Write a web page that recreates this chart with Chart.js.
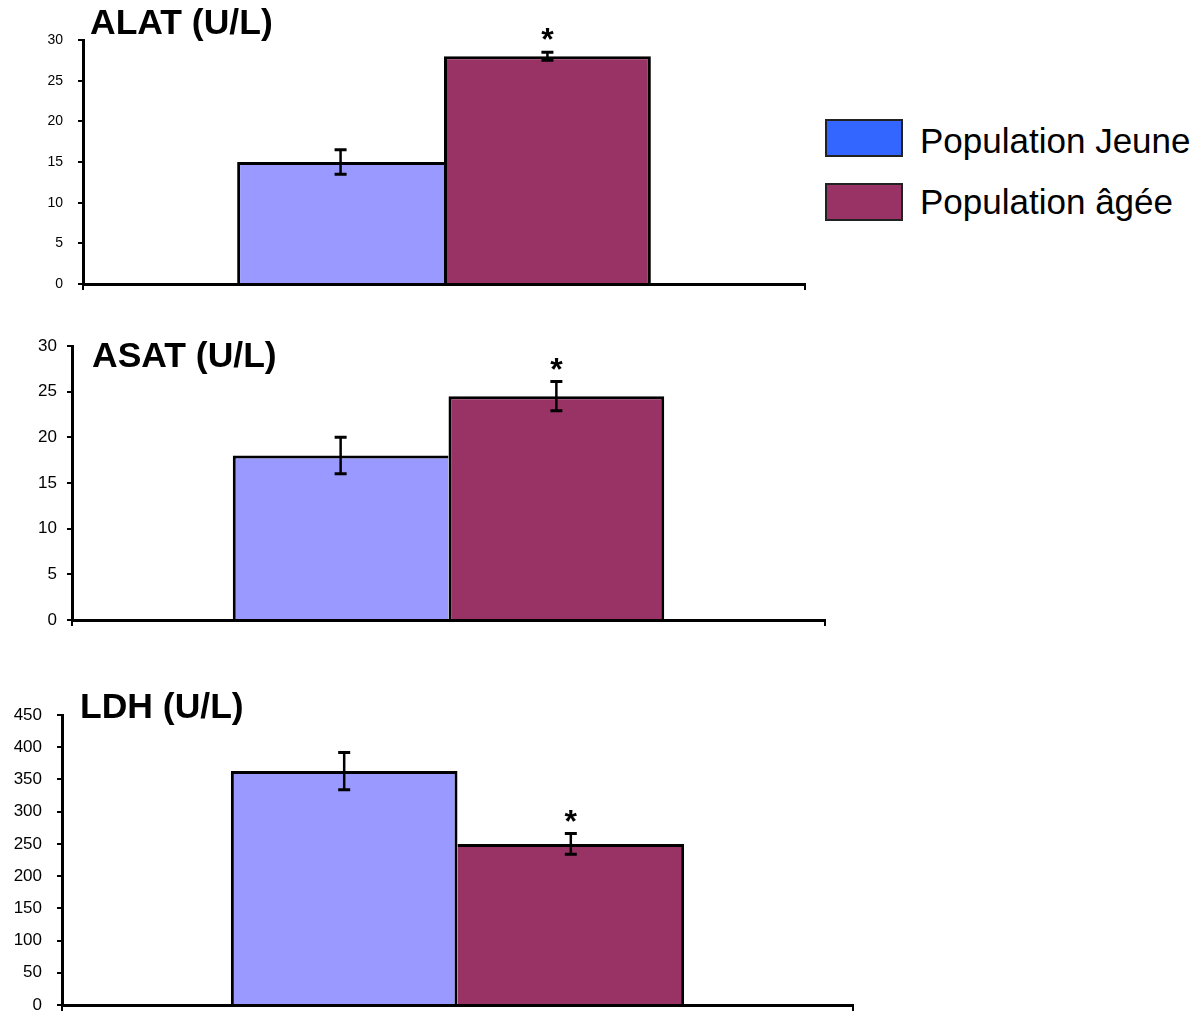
<!DOCTYPE html>
<html>
<head>
<meta charset="utf-8">
<script src="https://cdn.jsdelivr.net/npm/chart.js@4.4.1/dist/chart.umd.min.js"></script>
<style>
  body { margin: 0; background: #fff; width: 1201px; height: 1014px; position: relative; overflow: hidden;
         font-family: "Liberation Sans", Arial, sans-serif; }
  canvas { position: absolute; left: 0; }
  .key-box { position: absolute; left: 825px; width: 78px; height: 38px; box-sizing: border-box; border: 2px solid #222; }
  .key-text { position: absolute; left: 920px; font-size: 35px; line-height: 36px; color: #000; white-space: nowrap; }
</style>
</head>
<body>

<canvas id="alat-chart" width="820" height="300" style="top:0px"></canvas>
<canvas id="asat-chart" width="840" height="320" style="top:320px"></canvas>
<canvas id="ldh-chart" width="868" height="334" style="top:680px"></canvas>

<!-- shared legend -->
<div class="key-box" style="top:119px;background:#3366ff"></div>
<div class="key-text" style="top:123px">Population Jeune</div>
<div class="key-box" style="top:183px;background:#993366"></div>
<div class="key-text" style="top:184px">Population âgée</div>

<script>
// Groups and colours
var groups = ['Population Jeune', 'Population âgée'];
var barColors = ['#9999ff', '#993366'];
var significant = [false, true];

// Means and error bars
var alatMeans = [15, 28];
var alatErrors = [1.5, 0.5];
var asatMeans = [18, 24.5];
var asatErrors = [2, 1.6];
var ldhMeans = [363, 250];
var ldhErrors = [29, 16];

// Axis ranges
var alatTicks = { max: 30, step: 5 };
var asatTicks = { max: 30, step: 5 };
var ldhTicks = { max: 450, step: 50 };

var FONT = '"Liberation Sans", Arial, sans-serif';

// Error bars, asterisks and the panel title
var extrasPlugin = {
  id: 'extras',
  afterDatasetsDraw: function(chart, args, opts) {
    var ctx = chart.ctx;
    var yScale = chart.scales.y;

    chart.data.datasets.forEach(function(ds, i) {
      var bar = chart.getDatasetMeta(i).data[0];
      var mean = ds.data[0];
      var err = ds.errors[0];
      var top = yScale.getPixelForValue(mean + err);
      var bottom = yScale.getPixelForValue(mean - err);

      ctx.save();
      ctx.strokeStyle = '#000';
      ctx.lineWidth = 2.5;
      ctx.beginPath();
      ctx.moveTo(bar.x, top);
      ctx.lineTo(bar.x, bottom);
      ctx.stroke();
      ctx.lineWidth = 3;
      ctx.beginPath();
      ctx.moveTo(bar.x - 6, top);
      ctx.lineTo(bar.x + 6, top);
      ctx.moveTo(bar.x - 6, bottom);
      ctx.lineTo(bar.x + 6, bottom);
      ctx.stroke();

      if (ds.star) {
        ctx.fillStyle = '#000';
        ctx.font = 'bold 32px ' + FONT;
        ctx.textAlign = 'center';
        ctx.textBaseline = 'alphabetic';
        ctx.fillText('*', bar.x, top - 2);
      }
      ctx.restore();
    });

    ctx.save();
    ctx.fillStyle = '#000';
    ctx.font = 'bold 35.5px ' + FONT;
    ctx.textAlign = 'left';
    ctx.textBaseline = 'alphabetic';
    ctx.fillText(opts.title, opts.titleX, opts.titleY);
    ctx.restore();
  }
};

function makePanel(canvasId, means, errors, range, setup) {
  // the shared edge between the two bars is drawn once, by the taller bar
  var tallFirst = means[0] >= means[1];
  var datasets = groups.map(function(name, i) {
    var border = { top: 3, bottom: 0, left: 3, right: 3 };
    if (i === 0 && !tallFirst) border.right = 0;
    if (i === 1 && tallFirst) border.left = 0;
    return {
      label: name,
      data: [means[i]],
      errors: [errors[i]],
      star: significant[i],
      backgroundColor: barColors[i],
      borderColor: '#000',
      borderWidth: border,
      categoryPercentage: 0.573,
      barPercentage: 1.0
    };
  });

  return new Chart(document.getElementById(canvasId), {
    type: 'bar',
    data: { labels: [''], datasets: datasets },
    plugins: [extrasPlugin],
    options: {
      responsive: false,
      animation: false,
      layout: { padding: setup.padding },
      plugins: {
        legend: { display: false },
        tooltip: { enabled: false },
        extras: { title: setup.title, titleX: setup.titleX, titleY: setup.titleY }
      },
      scales: {
        x: {
          afterFit: function(scale) { scale.height = 8; },
          ticks: { display: false },
          grid: { display: true, drawOnChartArea: false, tickLength: 6, lineWidth: 2, color: '#000' },
          border: { display: true, color: '#000', width: 3 }
        },
        y: {
          min: 0,
          max: range.max,
          afterFit: function(scale) {
            scale.width = setup.axisLeft;
            scale.paddingTop = 0;
            scale.paddingBottom = 0;
          },
          ticks: {
            stepSize: range.step,
            color: '#000',
            padding: setup.tickPadding,
            font: { family: FONT, size: setup.tickSize }
          },
          grid: { display: true, drawOnChartArea: false, tickLength: 5, lineWidth: 2, color: '#000' },
          border: { display: true, color: '#000', width: 3 }
        }
      }
    }
  });
}

makePanel('alat-chart', alatMeans, alatErrors, alatTicks, {
  title: 'ALAT (U/L)', titleX: 90, titleY: 34,
  axisLeft: 83, tickSize: 14, tickPadding: 15,
  padding: { top: 40, right: 15, bottom: 8, left: 0 }
});

makePanel('asat-chart', asatMeans, asatErrors, asatTicks, {
  title: 'ASAT (U/L)', titleX: 92, titleY: 47,
  axisLeft: 72, tickSize: 17, tickPadding: 10,
  padding: { top: 26, right: 15, bottom: 12, left: 0 }
});

makePanel('ldh-chart', ldhMeans, ldhErrors, ldhTicks, {
  title: 'LDH (U/L)', titleX: 80, titleY: 38,
  axisLeft: 62, tickSize: 17, tickPadding: 15,
  padding: { top: 35, right: 15, bottom: 1, left: 0 }
});
</script>
</body>
</html>
